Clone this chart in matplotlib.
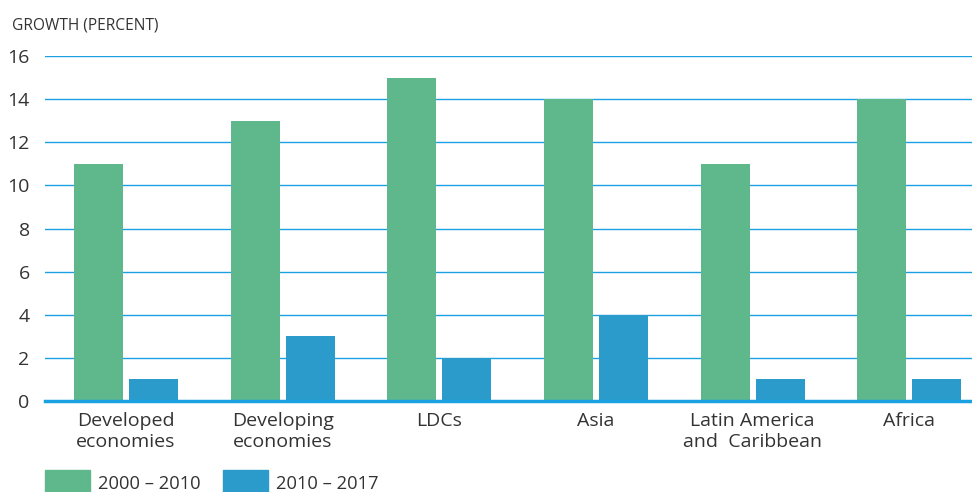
import matplotlib
matplotlib.use("Agg")
import matplotlib.pyplot as plt
from matplotlib.patches import Rectangle
import numpy as np

plt.rcParams['font.family'] = ['Open Sans', 'DejaVu Sans']

categories = ["Developed\neconomies", "Developing\neconomies", "LDCs", "Asia",
              "Latin America\nand  Caribbean", "Africa"]
growth_2000_2010 = [11, 13, 15, 14, 11, 14]
growth_2010_2017 = [1, 3, 2, 4, 1, 1]
series_labels = ["2000 – 2010", "2010 – 2017"]
yticks = [0, 2, 4, 6, 8, 10, 12, 14, 16]

green = "#5fb88b"
blue = "#2a9bca"
grid_blue = "#1ba1e2"
text_col = "#333333"

fig = plt.figure(figsize=(9.72, 4.92), dpi=100)
ax = fig.add_axes([0.0463, 0.185, 0.9537, 0.701])

x = np.arange(len(categories))
w = 0.313
off = 0.176
ax.bar(x - off, growth_2000_2010, width=w, color=green, zorder=3)
ax.bar(x + off, growth_2010_2017, width=w, color=blue, zorder=3)

ax.set_xlim(-0.517, 5.40)
ax.set_ylim(0, 16)
ax.set_yticks(yticks)
ax.set_yticklabels([str(t) for t in yticks], fontsize=14, color=text_col)
ax.set_xticks(x)
ax.set_xticklabels(categories, fontsize=14, color=text_col, linespacing=1.2)
ax.tick_params(axis='both', length=0)
ax.tick_params(axis='y', pad=11)
ax.tick_params(axis='x', pad=8)

for t in yticks[1:]:
    ax.axhline(t, color=grid_blue, linewidth=1.0, zorder=1)
ax.axhline(0, color=grid_blue, linewidth=2.5, zorder=4, clip_on=False)

for s in ax.spines.values():
    s.set_visible(False)

fig.text(0.0125, 0.949, "GROWTH (PERCENT)", fontsize=11.2, color=text_col,
         ha='left', va='center')

# Legend drawn as patches with text along the bottom edge
legend_items = [(0.0463, green, series_labels[0]), (0.2294, blue, series_labels[1])]
for x0, col, lab in legend_items:
    fig.patches.append(Rectangle((x0, -0.01), 0.0463, 0.055, transform=fig.transFigure,
                                 color=col, clip_on=False))
    fig.text(x0 + 0.055, 0.016, lab, fontsize=13.2, color=text_col,
             ha='left', va='center')

fig.savefig("out.png", dpi=100)
